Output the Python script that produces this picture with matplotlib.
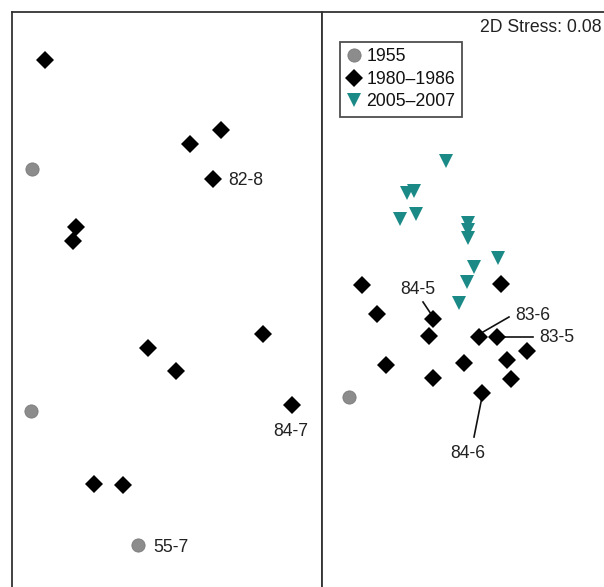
import matplotlib
matplotlib.use("Agg")
import matplotlib.pyplot as plt

plt.rcParams['font.family'] = ['Liberation Sans', 'DejaVu Sans']

# ---------------- data (NMDS coordinates, arbitrary units) ----------------
# Left panel
left_1980_x = [0.33, 1.78, 2.09, 2.01, 0.64, 0.61, 1.36, 1.64, 2.51, 2.80, 0.82, 1.11]
left_1980_y = [5.40, 4.56, 4.70, 4.21, 3.73, 3.59, 2.52, 2.29, 2.66, 1.95, 1.16, 1.15]
left_1955_x = [0.20, 0.19, 1.26]
left_1955_y = [4.31, 1.89, 0.55]
left_labels = ["82-8", "84-7", "55-7"]
left_label_x = [2.16, 2.79, 1.41]
left_label_y = [4.19, 1.68, 0.53]

# Right panel
right_1980_x = [0.40, 1.79, 0.55, 1.11, 1.07, 1.57, 1.75, 2.05, 1.85, 0.64, 1.42, 1.11, 1.89, 1.60]
right_1980_y = [3.15, 3.16, 2.86, 2.81, 2.64, 2.63, 2.63, 2.49, 2.40, 2.35, 2.37, 2.22, 2.21, 2.07]
right_2005_x = [1.24, 0.85, 0.92, 0.78, 0.94, 1.46, 1.46, 1.46, 1.76, 1.52, 1.45, 1.37]
right_2005_y = [4.39, 4.07, 4.09, 3.81, 3.86, 3.77, 3.70, 3.62, 3.42, 3.33, 3.18, 2.97]
right_1955_x = [0.27]
right_1955_y = [2.03]
right_labels = ["84-5", "83-6", "83-5", "84-6"]
right_label_x = [0.96, 2.11, 2.35, 1.46]
right_label_y = [3.10, 2.84, 2.62, 1.46]
leader_x0 = [1.01, 1.61, 1.80, 1.60]
leader_y0 = [2.98, 2.68, 2.63, 2.03]
leader_x1 = [1.09, 1.87, 2.11, 1.52]
leader_y1 = [2.86, 2.83, 2.63, 1.63]

legend_labels = ["1955", "1980\u20131986", "2005\u20132007"]
stress_text = "2D Stress: 0.08"

# ---------------- styles ----------------
C_1955 = "#8c8c8c"
C_1980 = "#000000"
C_2005 = "#1b8a87"
FS = 12.7
SPINE = "#333333"
MS_CIRC = 9.5
MS_DIAM = 9.0
MS_TRI = 10.0

W, H = 604, 587
fig = plt.figure(figsize=(W / 100, H / 100), dpi=100)

def px_axes(x0, y0, x1, y1):
    return fig.add_axes([x0 / W, 1 - y1 / H, (x1 - x0) / W, (y1 - y0) / H])

axL = px_axes(12, 12, 322, 600)
axR = px_axes(322, 12, 640, 600)

for ax, xmax in ((axL, 3.10), (axR, 3.18)):
    ax.set_xlim(0, xmax)
    ax.set_ylim(0, 5.88)
    ax.set_xticks([])
    ax.set_yticks([])
    for s in ax.spines.values():
        s.set_color(SPINE)
        s.set_linewidth(1.3)

# Left panel marks
axL.plot(left_1955_x, left_1955_y, 'o', ms=MS_CIRC, color=C_1955, mec="#7a7a7a", mew=0.6)
axL.plot(left_1980_x, left_1980_y, 'D', ms=MS_DIAM, color=C_1980, mew=0)
for t, x, y in zip(left_labels, left_label_x, left_label_y):
    ha = 'center' if t == "84-7" else 'left'
    axL.text(x, y, t, ha=ha, va='center', fontsize=FS, color="#222222")

# Right panel marks
for x0, y0, x1, y1 in zip(leader_x0, leader_y0, leader_x1, leader_y1):
    axR.plot([x0, x1], [y0, y1], color="#111111", lw=1.2, zorder=1)
h1 = axR.plot(right_1955_x, right_1955_y, 'o', ms=MS_CIRC, color=C_1955, mec="#7a7a7a", mew=0.6)[0]
h2 = axR.plot(right_1980_x, right_1980_y, 'D', ms=MS_DIAM, color=C_1980, mew=0)[0]
h3 = axR.plot(right_2005_x, right_2005_y, 'v', ms=MS_TRI, color=C_2005, mew=0)[0]
for t, x, y in zip(right_labels, right_label_x, right_label_y):
    axR.text(x, y, t, ha='center', va='center', fontsize=FS, color="#222222")

axR.text(1.58, 5.72, stress_text, ha='left', va='center', fontsize=FS, color="#222222")

leg = axR.legend([h1, h2, h3], legend_labels, loc='upper left',
                 bbox_to_anchor=((340 - 322) / 318, 1 - (42 - 12) / 588),
                 borderaxespad=0, prop={'size': FS}, frameon=True, fancybox=False,
                 handlelength=0.9, handletextpad=0.25, labelspacing=0.32,
                 borderpad=0.35)
leg.get_frame().set_edgecolor("#222222")
leg.get_frame().set_linewidth(1.3)
for txt in leg.get_texts():
    txt.set_color("#111111")

fig.savefig("out.png", dpi=100)
